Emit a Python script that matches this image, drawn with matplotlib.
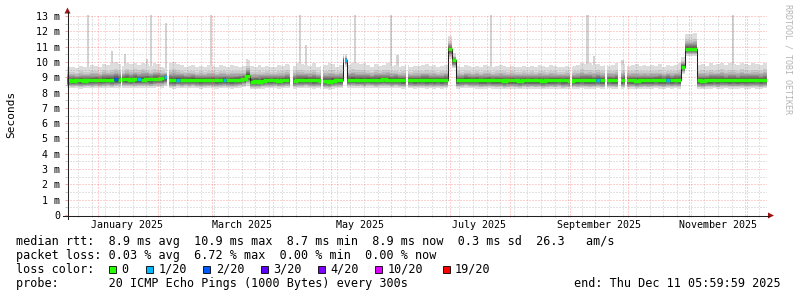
# SmokePing style "last 360 days" latency graph

import datetime as dt
import numpy as np
import matplotlib
matplotlib.use('Agg')
from matplotlib import pyplot as plt
from matplotlib import transforms
from matplotlib.collections import LineCollection
from matplotlib.lines import Line2D
from matplotlib.patches import Polygon, Rectangle

W, H = 797, 297
MONO = 'DejaVu Sans Mono'

start = dt.datetime(2024, 12, 16, 6, 0)
n_days = 360
bin_days = 2   # each value below covers two days

# median rtt per bin (ms)
med0 = [8.80, 8.78, 8.80, 8.80, 8.78, 8.80, 8.80, 8.82, 8.80, 8.82, 8.85, 8.82, 8.86, 8.85, 8.88]
med1 = [8.86, 8.85, 8.88, 8.87, 8.85, 8.88, 8.86, 8.88, 8.90, 8.92, 9.00, 8.82, 8.80, 8.85, 8.82]
med2 = [8.84, 8.82, 8.85, 8.82, 8.80, 8.82, 8.80, 8.82, 8.80, 8.80, 8.82, 8.80, 8.80, 8.82, 8.85]
med3 = [8.90, 9.10, 8.72, 8.75, 8.72, 8.78, 8.80, 8.80, 8.82, 8.78, 8.80, 8.82, 8.80, 8.78, 8.80]
med4 = [8.82, 8.85, 8.82, 8.80, 8.82, 8.78, 8.75, 8.72, 8.78, 8.80, 8.80, 10.15, 8.84, 8.84, 8.82]
med5 = [8.84, 8.82, 8.85, 8.84, 8.82, 8.85, 8.86, 8.84, 8.82, 8.84, 8.82, 8.80, 8.80, 8.82, 8.80]
med6 = [8.80, 8.82, 8.80, 8.80, 8.80, 8.82, 8.80, 8.82, 10.85, 10.10, 8.80, 8.82, 8.85, 8.82, 8.82]
med7 = [8.82, 8.80, 8.80, 8.82, 8.80, 8.80, 8.80, 8.78, 8.80, 8.80, 8.80, 8.78, 8.80, 8.80, 8.80]
med8 = [8.80, 8.80, 8.78, 8.80, 8.80, 8.80, 8.82, 8.80, 8.80, 8.78, 8.80, 8.80, 8.82, 8.80, 8.80]
med9 = [8.80, 8.82, 8.80, 8.80, 8.82, 8.80, 8.80, 8.80, 8.82, 8.80, 8.80, 8.78, 8.80, 8.80, 8.80]
med10 = [8.80, 8.82, 8.80, 8.80, 8.82, 8.80, 8.82, 8.80, 9.70, 10.87, 10.87, 10.87, 8.80, 8.78, 8.80]
med11 = [8.80, 8.82, 8.80, 8.82, 8.80, 8.80, 8.82, 8.80, 8.80, 8.80, 8.82, 8.80, 8.82, 8.80, 8.82]

# slowest ping per bin (top of smoke, ms)
hi0 = [9.65, 9.70, 9.60, 9.75, 9.70, 9.65, 9.80, 9.75, 9.70, 9.85, 9.80, 9.90, 10.00, 9.85, 9.75]
hi1 = [9.95, 9.85, 9.90, 9.80, 9.95, 9.85, 9.75, 9.90, 9.85, 9.70, 9.60, 9.90, 10.00, 9.85, 9.80]
hi2 = [9.70, 9.75, 9.80, 9.70, 9.75, 9.65, 9.80, 9.75, 9.70, 9.80, 9.75, 9.70, 9.80, 9.75, 9.70]
hi3 = [9.75, 10.10, 9.75, 9.70, 9.80, 9.70, 9.75, 9.70, 9.65, 9.80, 9.75, 9.85, 9.80, 9.75, 9.90]
hi4 = [9.85, 9.80, 9.75, 9.90, 9.70, 9.75, 9.80, 9.90, 9.85, 9.70, 9.80, 10.50, 9.80, 9.95, 9.90]
hi5 = [9.85, 9.90, 9.80, 9.70, 9.85, 9.75, 9.80, 9.90, 9.75, 9.80, 9.70, 9.75, 9.80, 9.70, 9.75]
hi6 = [9.75, 9.80, 9.85, 9.75, 9.80, 9.70, 9.75, 9.80, 11.70, 10.60, 9.75, 9.70, 9.80, 9.75, 9.70]
hi7 = [9.75, 9.70, 9.80, 9.75, 9.70, 9.75, 9.80, 9.75, 9.70, 9.75, 9.65, 9.70, 9.75, 9.70, 9.75]
hi8 = [9.70, 9.80, 9.75, 9.70, 9.80, 9.75, 9.70, 9.65, 9.75, 9.70, 9.75, 9.80, 9.95, 9.85, 9.90]
hi9 = [9.80, 9.85, 9.75, 9.80, 9.75, 9.80, 9.90, 9.80, 9.85, 9.75, 9.80, 9.85, 9.75, 9.80, 9.75]
hi10 = [9.80, 9.75, 9.85, 9.70, 9.80, 9.75, 9.80, 9.90, 10.30, 11.85, 11.80, 11.90, 9.80, 9.85, 9.75]
hi11 = [9.90, 9.80, 9.85, 9.95, 9.80, 9.90, 9.85, 9.80, 9.95, 9.85, 9.80, 9.90, 9.85, 9.80, 9.95]

# fastest ping per bin (bottom of smoke, ms)
lo0 = [8.30, 8.28, 8.30, 8.25, 8.28, 8.30, 8.27, 8.30, 8.28, 8.30, 8.32, 8.28, 8.30, 8.33, 8.30]
lo1 = [8.32, 8.30, 8.28, 8.30, 8.32, 8.30, 8.28, 8.32, 8.35, 8.33, 8.40, 8.28, 8.25, 8.30, 8.28]
lo2 = [8.30, 8.28, 8.30, 8.27, 8.25, 8.28, 8.30, 8.28, 8.25, 8.27, 8.30, 8.28, 8.25, 8.28, 8.30]
lo3 = [8.35, 8.45, 8.22, 8.20, 8.22, 8.25, 8.27, 8.28, 8.30, 8.25, 8.27, 8.30, 8.28, 8.25, 8.27]
lo4 = [8.28, 8.30, 8.27, 8.25, 8.28, 8.22, 8.20, 8.18, 8.25, 8.27, 8.28, 9.70, 8.30, 8.32, 8.30]
lo5 = [8.30, 8.28, 8.32, 8.30, 8.28, 8.30, 8.32, 8.30, 8.28, 8.30, 8.28, 8.25, 8.27, 8.28, 8.25]
lo6 = [8.27, 8.28, 8.25, 8.27, 8.25, 8.28, 8.25, 8.28, 10.20, 9.60, 8.25, 8.27, 8.30, 8.28, 8.27]
lo7 = [8.25, 8.22, 8.25, 8.27, 8.25, 8.22, 8.25, 8.20, 8.22, 8.25, 8.22, 8.20, 8.25, 8.22, 8.25]
lo8 = [8.22, 8.25, 8.20, 8.22, 8.25, 8.22, 8.25, 8.20, 8.22, 8.20, 8.25, 8.22, 8.27, 8.25, 8.22]
lo9 = [8.25, 8.27, 8.22, 8.25, 8.27, 8.25, 8.22, 8.25, 8.27, 8.22, 8.25, 8.20, 8.22, 8.25, 8.22]
lo10 = [8.25, 8.27, 8.25, 8.22, 8.27, 8.25, 8.27, 8.25, 9.20, 10.40, 10.40, 10.40, 8.22, 8.20, 8.25]
lo11 = [8.25, 8.27, 8.22, 8.25, 8.27, 8.25, 8.22, 8.25, 8.27, 8.25, 8.22, 8.27, 8.25, 8.22, 8.27]

# bins that had packet loss (index into loss legend)
loss_bins = [12, 18, 25, 28, 40, 57, 71, 136, 154]
loss_level = [2, 1, 1, 1, 1, 1, 1, 1, 1]

# single slow pings sticking out of the smoke (day, ms)
spike_day = [10.6, 23.0, 29.8, 41.0, 43.0, 50.8, 74.1, 92.6, 119.8, 122.8,
             148.1, 166.6, 170.0, 217.9, 267.7, 271.0, 285.7, 342.7]
spike_top = [13.2, 10.7, 10.5, 10.2, 13.2, 12.55, 13.2, 10.2, 13.2, 11.1,
             13.2, 13.2, 10.45, 13.2, 13.2, 10.4, 10.1, 13.2]

# no data (day ranges)
gap_start = [27.8, 51.4, 114.9, 130.6, 142.6, 174.3, 258.7, 276.7, 283.6, 287.2]
gap_end = [28.4, 52.5, 116.0, 131.7, 143.1, 175.4, 259.5, 277.7, 284.7, 288.1]

loss_labels = ['0', '1/20', '2/20', '3/20', '4/20', '10/20', '19/20']
loss_colors = ['#26ff00', '#00b8ff', '#0059ff', '#5e00ff', '#7e00ff', '#dd00ff', '#ff0000']

med = np.array(med0 + med1 + med2 + med3 + med4 + med5 + med6 + med7 + med8 + med9 + med10 + med11)
hi = np.array(hi0 + hi1 + hi2 + hi3 + hi4 + hi5 + hi6 + hi7 + hi8 + hi9 + hi10 + hi11)
lo = np.array(lo0 + lo1 + lo2 + lo3 + lo4 + lo5 + lo6 + lo7 + lo8 + lo9 + lo10 + lo11)
loss = np.zeros(len(med), dtype=int)
loss[loss_bins] = loss_level

edges = np.arange(len(med) + 1) * bin_days
ext = lambda a: np.append(a, a[-1])


def fx(x):
    return x / W


def fy(y):
    return 1 - y / H


def day(t):
    return (t - start).total_seconds() / 86400.0


fig = plt.figure(figsize=(W / 100, H / 100), dpi=100, facecolor='white')
ax = fig.add_axes([fx(67), fy(215), 700 / W, (215 - 14.5) / H])
ax.set_xlim(0, n_days)
ax.set_ylim(0, 13.1)
for s in ax.spines.values():
    s.set_visible(False)

# smoke: 10 bands from outer (light) to inner (dark), as smokeping draws it
upper_frac = [1.0, 0.62, 0.48, 0.39, 0.31, 0.24, 0.18, 0.13, 0.08, 0.04]
lower_frac = [1.0, 0.80, 0.70, 0.62, 0.55, 0.47, 0.38, 0.28, 0.17, 0.06]
ax.bar(spike_day, np.array(spike_top) - 8.8, bottom=8.8, width=1.1,
       color='#d2d2d2', lw=0, zorder=0.9)
for k in range(10):
    g = int(190 / 10 * (10 - (k + 1))) + 50
    c = '#%02x%02x%02x' % (g, g, g)
    top = med + (hi - med) * upper_frac[k]
    bot = med - (med - lo) * lower_frac[k]
    ax.fill_between(edges, ext(bot), ext(top), step='post', color=c, lw=0, zorder=1 + k * 0.01)

# median line: thin dark step line, thick loss-coloured runs on top
ax.step(edges, ext(med), where='post', color='#202020', lw=0.75, zorder=2)
runs, run_cols = [], []
cur = None
for i in range(len(med)):
    new = (cur is None or loss[i] != loss[i - 1] or abs(med[i] - med[i - 1]) > 0.3)
    if new:
        cur = []
        runs.append(cur)
        run_cols.append(loss_colors[loss[i]])
    cur.append((edges[i], med[i]))
    cur.append((edges[i + 1], med[i]))
ax.add_collection(LineCollection(runs, colors=run_cols, linewidths=2.5,
                                 capstyle='butt', joinstyle='miter', zorder=2.1))

for a, b in zip(gap_start, gap_end):
    ax.axvspan(a, b, color='white', lw=0, zorder=2.5)

# grid (semi-transparent, on top like rrdtool)
months = [day(dt.datetime(2025, m, 1)) for m in range(1, 13)]
weeks = []
t = dt.datetime(2024, 12, 22)
while day(t) < n_days:
    if min(abs(day(t) - m) for m in months) > 0.5:
        weeks.append(day(t))
    t += dt.timedelta(days=7)

dots = (0, (1, 2))
grid_c = (0.55, 0.55, 0.55, 0.5)
mgrid_c = (1.0, 0.33, 0.33, 0.55)
for v in np.arange(0.5, 13.1, 1.0):
    ax.axhline(v, color=grid_c, lw=0.72, ls=dots, zorder=3)
for v in range(1, 14):
    ax.axhline(v, color=mgrid_c, lw=0.72, ls=dots, zorder=3.1)
for d in weeks:
    ax.axvline(d, color=grid_c, lw=0.72, ls=dots, zorder=3)
for d in months:
    ax.axvline(d, color=mgrid_c, lw=0.72, ls=dots, zorder=3.1)

ax.set_yticks(range(14))
ax.set_yticklabels(['0'] + ['%d m' % i for i in range(1, 14)], family=MONO, fontsize=7.2)
ax.set_yticks(np.arange(0.5, 13.1, 1.0), minor=True)
ax.set_xticks(months)
ax.set_xticks(weeks, minor=True)
ax.tick_params(axis='x', which='both', labelbottom=False, direction='out', length=1.5, width=0.7)
ax.tick_params(axis='y', which='both', direction='out', length=1.5, width=0.7, pad=3.2)
ax.tick_params(which='major', color='#ff9a9a')
ax.tick_params(which='minor', color='#c4c4c4')

bt = transforms.blended_transform_factory(ax.transData, fig.transFigure)
for m, name in [(1, 'January'), (3, 'March'), (5, 'May'), (7, 'July'),
                (9, 'September'), (11, 'November')]:
    mid = day(dt.datetime(2025, m, 1)) + 15
    ax.text(mid, fy(227.8), '%s 2025' % name, transform=bt, ha='center', va='baseline',
            family=MONO, fontsize=7.2)

# axes and arrows
fig.add_artist(Line2D([fx(63), fx(769)], [fy(215.5), fy(215.5)], color='#202020', lw=0.75))
fig.add_artist(Line2D([fx(67.5), fx(67.5)], [fy(219), fy(12)], color='#202020', lw=0.75))
fig.add_artist(Polygon([(fx(774), fy(215.5)), (fx(768), fy(212.5)), (fx(768), fy(218.5))],
                       closed=True, color='#a01515', lw=0))
fig.add_artist(Polygon([(fx(67.5), fy(7.5)), (fx(64.5), fy(13.5)), (fx(70.5), fy(13.5))],
                       closed=True, color='#a01515', lw=0))

fig.text(fx(11), fy(114), 'Seconds', rotation=90, ha='center', va='center',
         family=MONO, fontsize=8)
fig.text(fx(788), fy(4), 'RRDTOOL / TOBI OETIKER', rotation=270, ha='center', va='top',
         family=MONO, fontsize=6, color='#b4b4b4')

# legend
fs = 8.5
fig.text(fx(16), fy(244.5),
         'median rtt:  8.9 ms avg  10.9 ms max  8.7 ms min  8.9 ms now  0.3 ms sd  26.3   am/s',
         family=MONO, fontsize=fs, va='baseline')
fig.text(fx(16), fy(259), 'packet loss: 0.03 % avg  6.72 % max  0.00 % min  0.00 % now',
         family=MONO, fontsize=fs, va='baseline')
fig.text(fx(16), fy(273), 'loss color:', family=MONO, fontsize=fs, va='baseline')
box_x = [108.5, 146, 203.5, 260.5, 317.5, 375, 442.5]
for bx, lab, col in zip(box_x, loss_labels, loss_colors):
    fig.add_artist(Rectangle((fx(bx), fy(273)), 7 / W, 7 / H, facecolor=col,
                             edgecolor='black', lw=0.6, transform=fig.transFigure))
    fig.text(fx(bx + 12.5), fy(273), lab, family=MONO, fontsize=fs, va='baseline')
fig.text(fx(16), fy(287.3), 'probe:       20 ICMP Echo Pings (1000 Bytes) every 300s',
         family=MONO, fontsize=fs, va='baseline')
fig.text(fx(781), fy(287.3), 'end: Thu Dec 11 05:59:59 2025', family=MONO, fontsize=fs,
         va='baseline', ha='right')

fig.savefig('out.png', dpi=100, facecolor='white')
